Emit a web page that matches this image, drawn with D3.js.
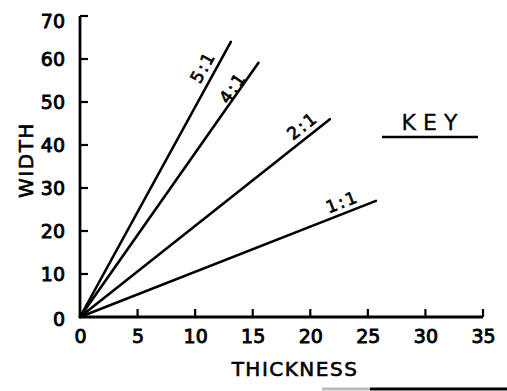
<!DOCTYPE html>
<html>
<head>
<meta charset="utf-8">
<script src="https://cdn.jsdelivr.net/npm/d3@7/dist/d3.min.js"></script>
<style>
  html, body { margin: 0; padding: 0; background: #fff; }
  svg { display: block; }
  text { font-family: "DejaVu Sans", sans-serif; fill: #000; }
</style>
</head>
<body>
<svg id="chart" width="507" height="391"></svg>
<script>
// ---- data ----
const ratioLabels = ["5:1", "4:1", "2:1", "1:1"];
const endThickness = [13.1, 15.5, 21.7, 25.7];
const endWidth = [64.0, 59.1, 46.0, 27.0];
const xTicks = [0, 5, 10, 15, 20, 25, 30, 35];
const yTicks = [0, 10, 20, 30, 40, 50, 60, 70];
const xTitle = "THICKNESS";
const yTitle = "WIDTH";
const keyTitle = "KEY";

// label placement (fraction along line, perpendicular offset px)
const labelAlong = [0.887, 0.887, 0.92, 0.90];
const labelOffset = [12.5, 7, 12, 11.5];

const svg = d3.select("#chart");
const x = d3.scaleLinear().domain([0, 35]).range([80, 483]);
const y = d3.scaleLinear().domain([0, 70]).range([317, 16]);

const lineData = ratioLabels.map((r, i) => ({ r, x1: 0, y1: 0, x2: endThickness[i], y2: endWidth[i], t: labelAlong[i], off: labelOffset[i] }));

svg.selectAll("line.ratio").data(lineData).enter().append("line")
  .attr("class", "ratio")
  .attr("x1", d => x(d.x1)).attr("y1", d => y(d.y1))
  .attr("x2", d => x(d.x2)).attr("y2", d => y(d.y2))
  .attr("stroke", "#000").attr("stroke-width", 2.6).attr("stroke-linecap", "round");

svg.selectAll("text.rlab").data(lineData).enter().append("text")
  .attr("class", "rlab")
  .each(function(d) {
    const X1 = x(d.x1), Y1 = y(d.y1), X2 = x(d.x2), Y2 = y(d.y2);
    const dx = X2 - X1, dy = Y2 - Y1, len = Math.hypot(dx, dy);
    const ang = Math.atan2(dy, dx) * 180 / Math.PI;
    const nx = dy / len, ny = -dx / len;
    const cx = X1 + dx * d.t + nx * d.off;
    const cy = Y1 + dy * d.t + ny * d.off;
    d3.select(this)
      .attr("transform", `translate(${cx},${cy}) rotate(${ang})`)
      .attr("text-anchor", "middle")
      .attr("dominant-baseline", "central")
      .attr("font-size", 17)
      .attr("letter-spacing", 2)
      .attr("stroke", "#000").attr("stroke-width", 0.7)
      .text(d.r);
  });

const xAxis = d3.axisBottom(x).tickValues(xTicks).tickSize(0).tickPadding(13).tickFormat(d3.format("d"));
const yAxis = d3.axisLeft(y).tickValues(yTicks).tickSize(0).tickPadding(15).tickFormat(d3.format("d"));

const gx = svg.append("g").attr("transform", `translate(0,${y(0)})`).call(xAxis);
const gy = svg.append("g").attr("transform", `translate(${x(0)},0)`).call(yAxis);
[gx, gy].forEach(g => {
  g.select(".domain").remove();
  g.attr("font-size", null).attr("font-family", null);
  g.selectAll("text").style("font-family", "DejaVu Sans").style("font-size", "19px")
    .attr("fill", "#000").attr("stroke", "#000").attr("stroke-width", 0.9);
});
gx.selectAll("text").attr("dy", "0.71em");
// top label sits slightly below the axis cap, as in the original
gy.selectAll(".tick").filter(d => d === 70).select("text").attr("dy", "0.62em");
gy.selectAll(".tick").filter(d => d === 0).select("text").attr("dy", "0.45em");

svg.append("line").attr("x1", x(0)).attr("x2", x(35)).attr("y1", y(0)).attr("y2", y(0))
  .attr("stroke", "#000").attr("stroke-width", 2.8);
svg.append("line").attr("x1", x(0)).attr("x2", x(0)).attr("y1", y(0)).attr("y2", y(70))
  .attr("stroke", "#000").attr("stroke-width", 2.8);

svg.selectAll("line.xt").data(xTicks.filter(v => v > 0)).enter().append("line")
  .attr("x1", d => x(d)).attr("x2", d => x(d))
  .attr("y1", y(0)).attr("y2", y(0) - 8)
  .attr("stroke", "#000").attr("stroke-width", 2.2);
svg.selectAll("line.yt").data(yTicks.filter(v => v > 0)).enter().append("line")
  .attr("x1", x(0)).attr("x2", x(0) + 8)
  .attr("y1", d => y(d)).attr("y2", d => y(d))
  .attr("stroke", "#000").attr("stroke-width", 2.2);

svg.append("text").attr("x", 295).attr("y", 369)
  .attr("text-anchor", "middle").attr("dominant-baseline", "central")
  .attr("font-size", 20).attr("letter-spacing", 1.5)
  .attr("stroke", "#000").attr("stroke-width", 0.6)
  .text(xTitle);
svg.append("text").attr("transform", "translate(26,160) rotate(-90)")
  .attr("text-anchor", "middle").attr("dominant-baseline", "central")
  .attr("font-size", 20).attr("letter-spacing", 1.5)
  .attr("stroke", "#000").attr("stroke-width", 0.6)
  .text(yTitle);

svg.append("text").attr("x", 433).attr("y", 122)
  .attr("text-anchor", "middle").attr("dominant-baseline", "central")
  .attr("font-size", 22).attr("letter-spacing", 7)
  .attr("stroke", "#000").attr("stroke-width", 0.3)
  .text(keyTitle);
svg.append("line").attr("x1", 382).attr("x2", 478).attr("y1", 137).attr("y2", 137)
  .attr("stroke", "#000").attr("stroke-width", 2.5);

svg.append("line").attr("x1", 322).attr("x2", 370).attr("y1", 389).attr("y2", 389)
  .attr("stroke", "#bbb").attr("stroke-width", 3);
svg.append("line").attr("x1", 370).attr("x2", 507).attr("y1", 389).attr("y2", 389)
  .attr("stroke", "#000").attr("stroke-width", 3);
</script>
</body>
</html>
